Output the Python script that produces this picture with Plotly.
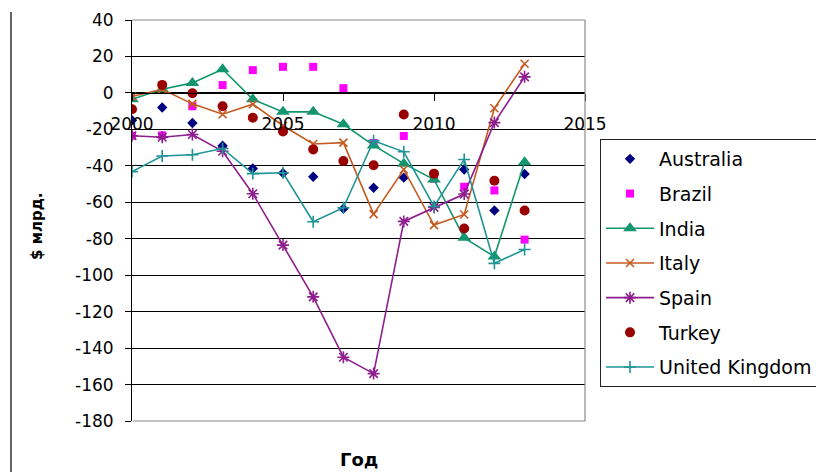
import plotly.graph_objects as go

# Current account balance, $ bn
years = list(range(2000, 2014))

australia = [-15, -8, -16.5, -29, -41.5, -44, -46, -63.5, -52, -46.5, -44.5, -42, -64.5, -44.5]
brazil = [-23.5, -23.3, -7.3, 4.3, 12.5, 14.3, 14.3, 2.6, -27.5, -23.6, -47, -51.5, -53.5, -80.5]
india = [-3.5, 2, 5.5, 13, -3.5, -10.4, -10.4, -17.2, -28.8, -38.8, -47.5, -79.5, -89.8, -38]
italy = [-2, 2, -6, -11.7, -6.2, -18, -28, -27.3, -66.5, -42, -72.5, -66.7, -8.4, 16]
spain = [-23.5, -24.3, -22.8, -32, -55.3, -83.5, -111.9, -145, -154, -70.5, -62.8, -55.5, -16.3, 8.8]
turkey = [-9, 4.4, -0.2, -7.3, -13.6, -21.2, -31, -37.4, -39.7, -11.8, -44.3, -74.4, -48.2, -64.5]
uk = [-43.2, -34.6, -33.9, -30.5, -44.3, -43.8, -70.7, -63, -26.2, -32.3, -62.3, -36.5, -93.5, -85.9]

y_ticks = list(range(-180, 41, 20))
y_tick_text = [str(v) for v in y_ticks]  # plain hyphen-minus
x_ticks = [2000, 2005, 2010, 2015]

FONT = "DejaVu Sans"

W, H = 816, 472
L, R, T, B = 132, 231, 20, 51
PW, PH = W - L - R, H - T - B


def px_x(px):
    return (px - L) / PW


def px_y(py):
    return (H - B - py) / PH


fig = go.Figure()


def add(name, values, mode, color, symbol, size, line_marker=False, line_width=1.6):
    marker = dict(symbol=symbol, size=size, color=color)
    if line_marker:
        marker["line"] = dict(color=color, width=1.6)
    fig.add_trace(go.Scatter(
        x=years, y=values, name=name, mode=mode, legendgroup=name,
        marker=marker,
        line=dict(color=color, width=line_width),
    ))


add("Australia", australia, "markers", "#000080", "diamond", 8)
add("Brazil", brazil, "markers", "#FF00FF", "square", 8)
add("India", india, "lines+markers", "#13966E", "triangle-up", 12)
add("Italy", italy, "lines+markers", "#C55A1E", "x-thin", 8, line_marker=True)
add("Spain", spain, "lines+markers", "#8E1E8E", "asterisk", 10, line_marker=True)
add("Turkey", turkey, "markers", "#990000", "circle", 10)
add("United Kingdom", uk, "lines+markers", "#1F9494", "cross-thin", 8.5, line_marker=True)

y_min, y_max = y_ticks[0], y_ticks[-1]
zero_pos = (0 - y_min) / (y_max - y_min)

frame = dict(color="#8a8a8a", width=1.2)

fig.update_layout(
    width=W, height=H,
    margin=dict(l=L, r=R, t=T, b=B, autoexpand=False),
    paper_bgcolor="white", plot_bgcolor="white",
    font=dict(family=FONT, size=17, color="black"),
    showlegend=True,
    legend=dict(
        x=px_x(600), y=px_y(139),
        xanchor="left", yanchor="top",
        bgcolor="white", bordercolor="#222222", borderwidth=1,
        font=dict(family=FONT, size=19, color="black"),
        tracegroupgap=7, itemwidth=48,
    ),
    xaxis=dict(
        range=[2000, 2015], tickvals=x_ticks, ticktext=[str(v) for v in x_ticks],
        anchor="free", position=zero_pos,
        showline=True, linecolor="black", linewidth=1,
        ticks="outside", ticklen=7, tickcolor="black", tickwidth=1,
        showgrid=False, zeroline=False, ticklabelstandoff=9,
        tickfont=dict(family=FONT, size=17),
    ),
    yaxis=dict(
        range=[y_min, y_max], tickvals=y_ticks, ticktext=y_tick_text,
        showline=True, linecolor="black", linewidth=1,
        ticks="outside", ticklen=6, tickcolor="black",
        showgrid=True, gridcolor="black", gridwidth=1, zeroline=False,
        ticklabelstandoff=8,
        tickfont=dict(family=FONT, size=17),
    ),
    shapes=[
        # gray plot-area frame on top, right and bottom
        dict(type="line", xref="paper", yref="paper", x0=0, x1=1, y0=1, y1=1,
             line=frame, layer="above"),
        dict(type="line", xref="paper", yref="paper", x0=1, x1=1, y0=0, y1=1,
             line=frame, layer="above"),
        dict(type="line", xref="paper", yref="paper", x0=0.002, x1=1, y0=0, y1=0,
             line=frame, layer="above"),
        # page rule at far left
        dict(type="line", xref="paper", yref="paper",
             x0=px_x(11), x1=px_x(11), y0=px_y(480), y1=px_y(12),
             line=dict(color="#333333", width=1.5), layer="above"),
    ],
    annotations=[
        dict(text="<b>$ млрд.</b>", textangle=-90, xref="paper", yref="paper",
             x=px_x(37), y=px_y(227), xanchor="center", yanchor="middle",
             showarrow=False, font=dict(family=FONT, size=15, color="black")),
        dict(text="<b>Год</b>", xref="paper", yref="paper",
             x=0.5, y=px_y(459), xanchor="center", yanchor="middle",
             showarrow=False, font=dict(family=FONT, size=18, color="black")),
    ],
)

fig.write_html("out.html")
